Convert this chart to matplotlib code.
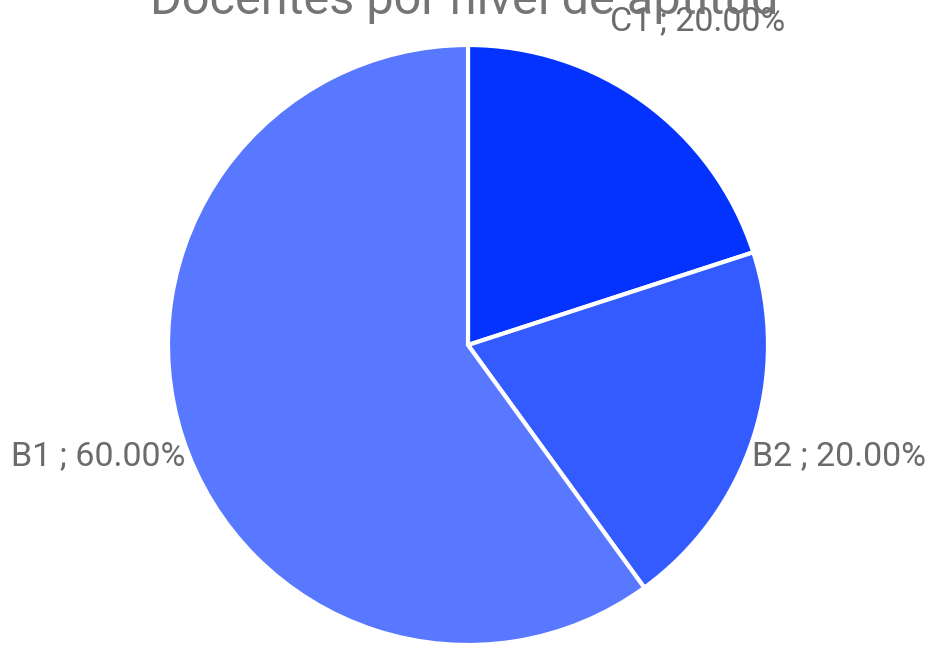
import matplotlib.pyplot as plt

plt.rcParams['font.family'] = ['Roboto', 'DejaVu Sans']

labels = ['C1', 'B2', 'B1']
values = [20.0, 20.0, 60.0]
colors = ['#0433ff', '#335bff', '#5778ff']

fig = plt.figure(figsize=(9.33, 6.47), dpi=100)
ax = fig.add_axes([0, 0, 1, 1])
ax.set_xlim(0, 933)
ax.set_ylim(0, 647)
ax.set_aspect('equal')
ax.axis('off')

wedges, texts = ax.pie(values, colors=colors, startangle=90, counterclock=False,
                       center=(468, 302), radius=300,
                       labels=[l + ' ; %.2f%%' % v for l, v in zip(labels, values)],
                       wedgeprops=dict(edgecolor='white', linewidth=3),
                       textprops=dict(color='#6b6b6b', fontsize=24.5))
ax.set_xlim(0, 933)
ax.set_ylim(0, 647)

# place labels like the original
pos = [((698, 626), 'center'), ((752, 191), 'left'), ((185, 191), 'right')]
for t, (p, ha) in zip(texts, pos):
    t.set_position(p)
    t.set_ha(ha)
    t.set_va('center')

ax.text(464, 633, 'Docentes por nivel de aptitud', ha='center', va='baseline',
        fontsize=35, color='#757575')

fig.savefig('out.png', dpi=100)
